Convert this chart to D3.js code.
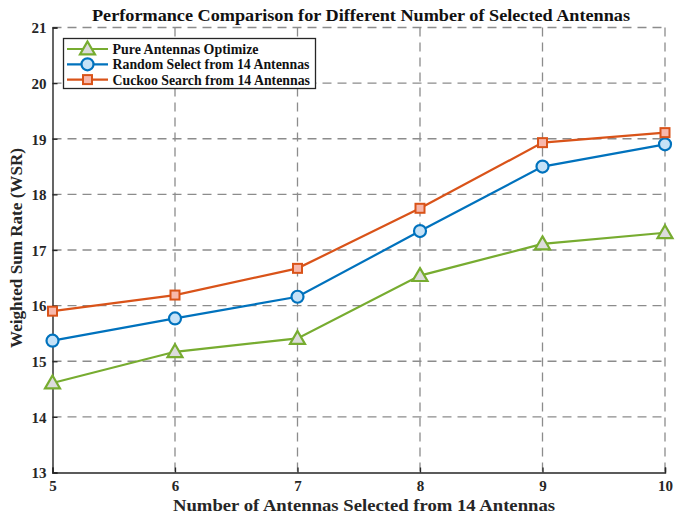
<!DOCTYPE html>
<html><head><meta charset="utf-8">
<script src="https://cdn.jsdelivr.net/npm/d3@7"></script>
<style>body{margin:0;background:#fff}svg{display:block}</style>
</head><body>
<svg id="c" width="675" height="515"></svg>
<script>
const xValues = [5, 6, 7, 8, 9, 10];
const pureOptimize = [14.61, 15.17, 15.41, 16.54, 17.11, 17.31];
const randomSelect = [15.37, 15.77, 16.16, 17.34, 18.50, 18.90];
const cuckooSearch = [15.90, 16.19, 16.67, 17.75, 18.93, 19.11];
const seriesNames = ["Pure Antennas Optimize", "Random Select from 14 Antennas", "Cuckoo Search from 14 Antennas"];
const xTicks = [5, 6, 7, 8, 9, 10];
const yTicks = [13, 14, 15, 16, 17, 18, 19, 20, 21];
const titleText = "Performance Comparison for Different Number of Selected Antennas";
const xLabel = "Number of Antennas Selected from 14 Antennas";
const yLabel = "Weighted Sum Rate (WSR)";

const series = [
  {name: seriesNames[0], values: pureOptimize, color: "#77AC30", fill: "#dcdcdc", marker: "tri", tl: 146},
  {name: seriesNames[1], values: randomSelect, color: "#0072BD", fill: "#c6e2f7", marker: "circ", tl: 197},
  {name: seriesNames[2], values: cuckooSearch, color: "#D95319", fill: "#f7b8ac", marker: "sq", tl: 197.5}
];

const L = 52.5, R = 665, T = 27.5, B = 472.5;
const x = d3.scaleLinear().domain([5, 10]).range([L, R]);
const y = d3.scaleLinear().domain([13, 21]).range([B, T]);
const svg = d3.select("#c");
const font = "'Liberation Serif','Times New Roman',serif";

// grid
const g = svg.append("g");
g.selectAll(".gx").data(xTicks.slice(1)).join("line")
  .attr("x1", d => x(d)).attr("x2", d => x(d)).attr("y1", T).attr("y2", B)
  .attr("stroke", "#8c8c8c").attr("stroke-width", 1.3).attr("stroke-dasharray", "9,6");
g.selectAll(".gy").data(yTicks.slice(1)).join("line")
  .attr("x1", L).attr("x2", R).attr("y1", d => y(d)).attr("y2", d => y(d))
  .attr("stroke", "#8c8c8c").attr("stroke-width", 1.3).attr("stroke-dasharray", "9,6");

// axes
const xAxis = svg.append("g").attr("transform", `translate(0,${B})`)
  .call(d3.axisBottom(x).tickValues(xTicks).tickSize(-5).tickPadding(8).tickFormat(d3.format("d")));
const yAxis = svg.append("g").attr("transform", `translate(${L},0)`)
  .call(d3.axisLeft(y).tickValues(yTicks).tickSize(-5).tickPadding(6).tickFormat(d3.format("d")));
[xAxis, yAxis].forEach(a => {
  a.select(".domain").attr("stroke", "#262626").attr("stroke-width", 1.4);
  a.selectAll(".tick line").attr("stroke", "#262626").attr("stroke-width", 1.3);
  a.selectAll("text").attr("font-family", font).attr("font-weight", "bold")
    .attr("font-size", 15).attr("fill", "#262626");
});
yAxis.selectAll(".tick text").attr("dy", "0.35em");

function drawMarker(sel, type, color, fill, cx, cy) {
  if (type === "tri") {
    const s = 7.5;
    sel.append("path").attr("d", `M${cx},${cy - s}L${cx + s},${cy + s * 0.72}L${cx - s},${cy + s * 0.72}Z`)
      .attr("fill", fill).attr("stroke", color).attr("stroke-width", 2.2);
  } else if (type === "circ") {
    sel.append("circle").attr("cx", cx).attr("cy", cy).attr("r", 6)
      .attr("fill", fill).attr("stroke", color).attr("stroke-width", 2.2);
  } else {
    sel.append("rect").attr("x", cx - 4.5).attr("y", cy - 4.5).attr("width", 9).attr("height", 9)
      .attr("fill", fill).attr("stroke", color).attr("stroke-width", 2);
  }
}

const line = d3.line().x(d => x(d[0])).y(d => y(d[1]));
series.forEach(s => {
  const pts = xValues.map((v, i) => [v, s.values[i]]);
  svg.append("path").datum(pts).attr("d", line).attr("fill", "none")
    .attr("stroke", s.color).attr("stroke-width", 2.2);
  const mg = svg.append("g");
  pts.forEach(p => drawMarker(mg, s.marker, s.color, s.fill, x(p[0]), y(p[1])));
});

// legend
const lg = svg.append("g");
lg.append("rect").attr("x", 63.5).attr("y", 38.5).attr("width", 252).attr("height", 50)
  .attr("fill", "#fff").attr("stroke", "#262626").attr("stroke-width", 1.3);
series.forEach((s, i) => {
  const cy = 49 + i * 15.3;
  lg.append("line").attr("x1", 67).attr("x2", 108).attr("y1", cy).attr("y2", cy)
    .attr("stroke", s.color).attr("stroke-width", 2.2);
  drawMarker(lg, s.marker, s.color, s.fill, 87.5, cy);
  lg.append("text").attr("x", 112.5).attr("y", cy).attr("dy", "0.35em")
    .attr("font-family", font).attr("font-weight", "bold").attr("font-size", 14.3)
    .attr("textLength", s.tl).attr("lengthAdjust", "spacingAndGlyphs")
    .attr("fill", "#111").text(s.name);
});

// title & labels
svg.append("text").attr("x", 92).attr("y", 21)
  .attr("font-family", font).attr("font-weight", "bold").attr("font-size", 17)
  .attr("textLength", 538).attr("lengthAdjust", "spacingAndGlyphs")
  .attr("fill", "#111").text(titleText);
svg.append("text").attr("x", 173).attr("y", 511)
  .attr("font-family", font).attr("font-weight", "bold").attr("font-size", 17.5)
  .attr("textLength", 382).attr("lengthAdjust", "spacingAndGlyphs")
  .attr("fill", "#262626").text(xLabel);
svg.append("text").attr("transform", `translate(22,348) rotate(-90)`)
  .attr("font-family", font).attr("font-weight", "bold").attr("font-size", 16.5)
  .attr("textLength", 200).attr("lengthAdjust", "spacingAndGlyphs")
  .attr("fill", "#262626").text(yLabel);
</script>
</body></html>
